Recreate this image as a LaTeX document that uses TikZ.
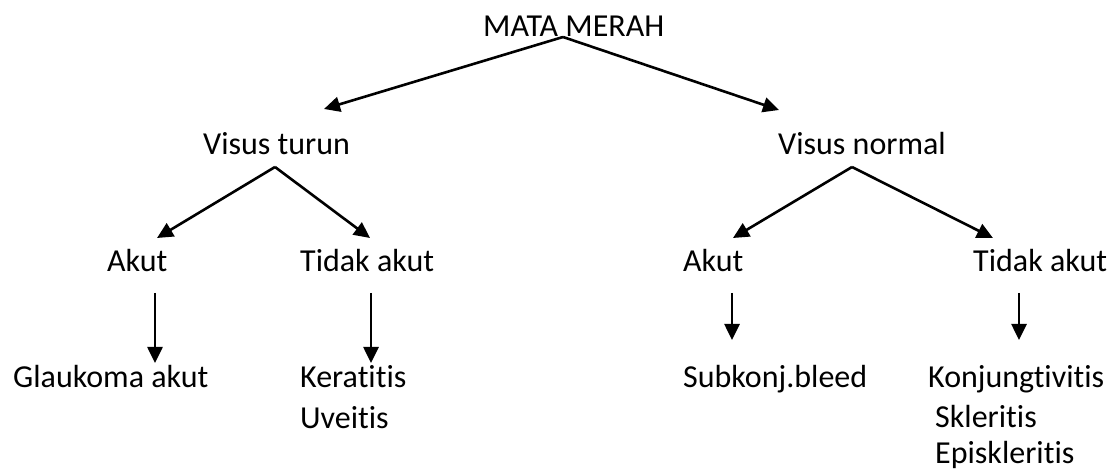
\documentclass[tikz,border=0pt]{standalone}
\usepackage{fontspec}
\setmainfont{Carlito}[Ligatures=NoCommon]
\usepackage{tikz}
\usetikzlibrary{arrows.meta}

\begin{document}
\begin{tikzpicture}[x=1pt, y=-1pt,
    txt/.style={anchor=base west, inner sep=0pt, font=\fontsize{32}{38}\selectfont},
    arr/.style={line width=2.6pt, -{Triangle[length=16pt,width=15pt]}}]
    \useasboundingbox (0,0) rectangle (1114,470);

    % Labels
    \node[txt] (mata) at (483,37) {MATA MERAH};
    \node[txt] (turun) at (203,155) {Visus turun};
    \node[txt] (normal) at (778,155) {Visus normal};
    \node[txt] (akutA) at (107,272) {Akut};
    \node[txt] (tidakA) at (300,272) {Tidak akut};
    \node[txt] (akutB) at (683,272) {Akut};
    \node[txt] (tidakB) at (973,272) {Tidak akut};
    \node[txt] (glaukoma) at (13,388) {Glaukoma akut};
    \node[txt] (keratitis) at (300,388) {Keratitis};
    \node[txt] (uveitis) at (300,428) {Uveitis};
    \node[txt] (subkonj) at (683,388) {Subkonj.bleed};
    \node[txt] (konjung) at (928,388) {Konjungtivitis};
    \node[txt] (skleritis) at (935,427) {Skleritis};
    \node[txt] (episkleritis) at (935,463) {Episkleritis};

    % Arrow ends
    \coordinate (mataOut) at (563,37);
    \coordinate (turunIn) at (324,109);
    \coordinate (normalIn) at (779,110);
    \coordinate (turunOut) at (275,167);
    \coordinate (normalOut) at (852,167);
    \coordinate (akutAIn) at (157,238);
    \coordinate (tidakAIn) at (370,238);
    \coordinate (akutBIn) at (733,238);
    \coordinate (tidakBIn) at (993,238);
    \coordinate (akutAOut) at (155,293);
    \coordinate (tidakAOut) at (371,293);
    \coordinate (akutBOut) at (732,293);
    \coordinate (tidakBOut) at (1019,293);
    \coordinate (glaukomaIn) at (155,363);
    \coordinate (keratitisIn) at (371,363);
    \coordinate (subkonjIn) at (732,340);
    \coordinate (konjungIn) at (1019,340);

    % Arrows
    \draw[arr] (mataOut) -- (turunIn);
    \draw[arr] (mataOut) -- (normalIn);
    \draw[arr] (turunOut) -- (akutAIn);
    \draw[arr] (turunOut) -- (tidakAIn);
    \draw[arr] (normalOut) -- (akutBIn);
    \draw[arr] (normalOut) -- (tidakBIn);
    \draw[arr] (akutAOut) -- (glaukomaIn);
    \draw[arr] (tidakAOut) -- (keratitisIn);
    \draw[arr] (akutBOut) -- (subkonjIn);
    \draw[arr] (tidakBOut) -- (konjungIn);
\end{tikzpicture}
\end{document}
